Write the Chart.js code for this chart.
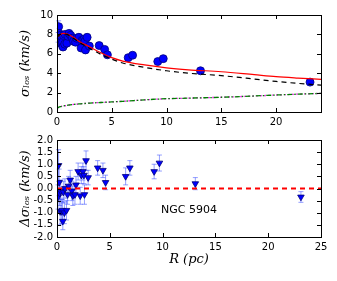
<!DOCTYPE html>
<html><head><meta charset="utf-8">
<script src="https://cdn.jsdelivr.net/npm/chart.js@4.4.1/dist/chart.umd.min.js"></script>
<style>
html,body{margin:0;padding:0;background:#fff;width:337px;height:281px;overflow:hidden}
#c1{position:absolute;left:0;top:0}
#c2{position:absolute;left:0;top:130px}
</style></head><body>
<canvas id="c1" width="337" height="130"></canvas>
<canvas id="c2" width="337" height="151"></canvas>
<script>
// ---- data ----
const radius = [0.1,0.15,0.2,0.25,0.3,0.35,0.45,0.5,0.55,0.6,0.7,0.75,0.9,1.0,1.1,1.25,1.4,1.5,1.7,1.8,2.0,2.2,2.3,2.45,2.55,2.6,2.75,2.95,3.85,4.35,4.6,6.5,6.9,9.2,9.7,13.1,23.1];
const sigmaObs = [7.7,8.8,8.1,7.6,7.1,7.9,7.0,7.2,6.7,7.9,7.0,8.0,7.1,7.8,8.1,7.9,7.6,7.3,7.2,7.6,7.7,6.6,7.4,7.5,7.3,6.4,7.7,6.8,6.85,6.45,5.9,5.6,5.85,5.2,5.5,4.25,3.08];
const sigmaErr = [0.5,0.6,0.5,0.45,0.5,0.4,0.45,0.4,0.35,0.4,0.4,0.35,0.35,0.35,0.35,0.35,0.35,0.35,0.35,0.3,0.35,0.3,0.35,0.3,0.3,0.35,0.35,0.3,0.3,0.3,0.3,0.3,0.3,0.3,0.3,0.22,0.2];
const residual = [-0.35,0.95,0.25,-0.2,-0.95,-0.1,-0.95,-0.9,-1.35,-0.15,-1.0,0.0,-0.9,-0.25,0.1,0.35,-0.1,-0.3,-0.25,0.15,0.7,-0.3,0.55,0.7,0.55,-0.25,1.15,0.45,0.85,0.75,0.25,0.5,0.85,0.7,1.05,0.2,-0.35];
const residErr = [0.5,0.65,0.55,0.5,0.55,0.45,0.5,0.45,0.35,0.45,0.45,0.4,0.4,0.4,0.4,0.4,0.4,0.4,0.4,0.35,0.35,0.35,0.35,0.35,0.35,0.4,0.4,0.3,0.3,0.3,0.3,0.35,0.3,0.3,0.33,0.25,0.22];
const modelR = [0,0.3,0.6,1,1.5,2,3,4,5,6,8,10,12,15,18,20,22,24.1];
const modelTotal = [7.7,8.0,8.1,8.0,7.7,7.3,6.7,6.1,5.6,5.25,4.85,4.55,4.35,4.15,3.85,3.65,3.5,3.36];
const modelStars = [7.7,8.0,8.05,7.95,7.6,7.2,6.55,5.95,5.45,5.05,4.6,4.25,4.0,3.75,3.4,3.15,2.95,2.77];
const modelDark = [0.4,0.55,0.62,0.7,0.78,0.83,0.92,0.98,1.04,1.1,1.25,1.37,1.43,1.52,1.65,1.75,1.84,1.92];
const zeroR = [0,25];
const zeroVal = [0,0];
const topXTicks = [0,5,10,15,20];
const topYTicks = [0,2,4,6,8,10];
const botXTicks = [0,5,10,15,20,25];
const botYTicks = [-2,-1.5,-1,-0.5,0,0.5,1,1.5,2];
const label = 'NGC 5904';

const pts = (xs, ys) => xs.map((x,i)=>({x, y: ys[i]}));
const FONT = 'DejaVu Sans';

const framePlugin = {
  id:'frame',
  beforeDatasetsDraw(chart){
    const {ctx, scales:{x,y}} = chart;
    chart.data.datasets.forEach(ds=>{
      if(!ds.errors) return;
      ctx.save();
      ctx.strokeStyle='rgba(60,80,255,0.55)';
      ctx.lineWidth=1;
      ds.data.forEach((p,i)=>{
        const px=x.getPixelForValue(p.x);
        const y1=y.getPixelForValue(p.y-ds.errors[i]);
        const y2=y.getPixelForValue(p.y+ds.errors[i]);
        ctx.beginPath();
        ctx.moveTo(px,y1);ctx.lineTo(px,y2);
        ctx.moveTo(px-2.5,y1);ctx.lineTo(px+2.5,y1);
        ctx.moveTo(px-2.5,y2);ctx.lineTo(px+2.5,y2);
        ctx.stroke();
      });
      ctx.restore();
    });
  },
  afterDraw(chart){
    const {ctx, chartArea:a, scales:{x,y}} = chart;
    ctx.save();
    ctx.strokeStyle='#000';ctx.lineWidth=1;
    ctx.strokeRect(Math.round(a.left)+0.5,Math.round(a.top)+0.5,Math.round(a.right-a.left),Math.round(a.bottom-a.top));
    ctx.beginPath();
    x.ticks.forEach(t=>{
      const px=Math.round(x.getPixelForValue(t.value))+0.5;
      ctx.moveTo(px,a.bottom);ctx.lineTo(px,a.bottom-4);
      ctx.moveTo(px,a.top);ctx.lineTo(px,a.top+4);
    });
    y.ticks.forEach(t=>{
      const py=Math.round(y.getPixelForValue(t.value))+0.5;
      ctx.moveTo(a.left,py);ctx.lineTo(a.left+4,py);
      ctx.moveTo(a.right,py);ctx.lineTo(a.right-4,py);
    });
    ctx.stroke();
    const opt=chart.options.plugins.frame||{};
    if(opt.text){
      ctx.fillStyle='#000';
      ctx.font='11px '+FONT;
      ctx.textAlign='center';ctx.textBaseline='middle';
      ctx.fillText(opt.text, x.getPixelForValue(opt.tx), y.getPixelForValue(opt.ty));
    }
    ctx.restore();
  }
};

function axes(xmin,xmax,xt,ymin,ymax,yt,yTitle,xTitle,xH,yFmt){
  return {
    x:{type:'linear',min:xmin,max:xmax,
      afterBuildTicks:s=>{s.ticks=xt.map(v=>({value:v}));},
      afterFit:s=>{s.height=xH;},
      grid:{display:false,drawTicks:false},border:{display:false},
      ticks:{color:'#000',font:{family:FONT,size:10},padding:4,maxRotation:0,autoSkip:false},
      title:{display:!!xTitle,text:xTitle||'',color:'#000',font:{family:'DejaVu Serif',size:13,style:'italic'},padding:{top:0,bottom:0}}
    },
    y:{type:'linear',min:ymin,max:ymax,
      afterBuildTicks:s=>{s.ticks=yt.map(v=>({value:v}));},
      afterFit:s=>{s.width=39;},
      grid:{display:false,drawTicks:false},border:{display:false},
      ticks:{color:'#000',font:{family:FONT,size:10},padding:4,callback:yFmt,autoSkip:false},
      title:{display:true,text:yTitle,color:'#000',font:{family:'DejaVu Serif',size:13,style:'italic'},padding:{top:0,bottom:0}}
    }
  };
}

new Chart(document.getElementById('c1'),{
  type:'scatter',
  data:{datasets:[
    {data:pts(modelR,modelDark),showLine:true,borderColor:'#008000',borderWidth:1.3,borderDash:[5,2,1.5,2],pointRadius:0,cubicInterpolationMode:'monotone'},
    {data:pts(modelR,modelDark),showLine:true,borderColor:'#ee00ee',borderWidth:1.3,borderDash:[1.5,2.5],pointRadius:0,cubicInterpolationMode:'monotone'},
    {data:pts(modelR,modelStars),showLine:true,borderColor:'#000',borderWidth:1.2,borderDash:[5,4],pointRadius:0,cubicInterpolationMode:'monotone'},
    {data:pts(modelR,modelTotal),showLine:true,borderColor:'#ff0000',borderWidth:1.2,pointRadius:0,cubicInterpolationMode:'monotone'},
    {data:pts(radius,sigmaObs),errors:sigmaErr,pointRadius:4,pointBackgroundColor:'#0000ff',pointBorderColor:'#00007a',pointBorderWidth:0.8,showLine:false}
  ]},
  options:{responsive:false,animation:false,events:[],
    layout:{padding:{top:15,right:16,left:18,bottom:0}},
    plugins:{legend:{display:false},tooltip:{enabled:false},frame:{}},
    scales:axes(0,24.1,topXTicks,0,10,topYTicks,'σₗₒₛ (km/s)',null,18,v=>String(v))
  },
  plugins:[framePlugin]
});

new Chart(document.getElementById('c2'),{
  type:'scatter',
  data:{datasets:[
    {data:pts(zeroR,zeroVal),showLine:true,borderColor:'#ff0000',borderWidth:2,borderDash:[5,4],pointRadius:0},
    {data:pts(radius,residual),errors:residErr,pointStyle:'triangle',rotation:180,pointRadius:3.8,pointBackgroundColor:'#0000ff',pointBorderColor:'#00007a',pointBorderWidth:0.8,showLine:false}
  ]},
  options:{responsive:false,animation:false,events:[],
    layout:{padding:{top:10,right:16,left:18,bottom:14}},
    plugins:{legend:{display:false},tooltip:{enabled:false},frame:{text:label,tx:12.5,ty:-0.9}},
    scales:axes(0,25,botXTicks,-2,2,botYTicks,'Δσₗₒₛ (km/s)','R (pc)',30,v=>v.toFixed(1))
  },
  plugins:[framePlugin]
});
</script>
</body></html>
